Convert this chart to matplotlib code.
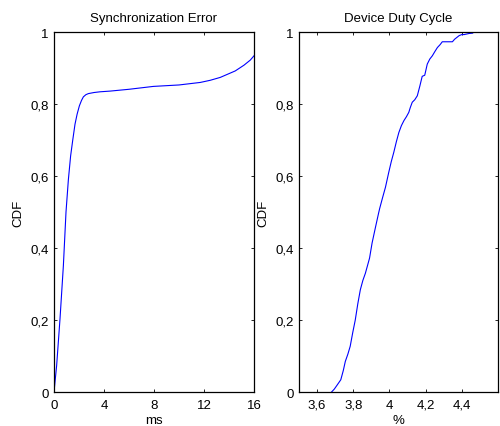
import matplotlib
matplotlib.use('Agg')
import matplotlib.pyplot as plt

plt.rcParams['font.family'] = ['Liberation Sans', 'DejaVu Sans']
plt.rcParams['font.size'] = 9.5

# synchronization error CDF (ms)
sync_ms = [0, 0.21, 0.48, 0.75, 0.96, 1.15, 1.33, 1.5, 1.68, 1.85, 2.03, 2.2, 2.35, 2.55,
           2.75, 3.2, 3.68, 4.5, 6.0, 7.95, 10.0, 11.7, 12.5, 13.3, 14.5, 15.2, 15.7, 16.0]
sync_cdf = [0, 0.073, 0.203, 0.351, 0.5, 0.59, 0.656, 0.7, 0.744, 0.772, 0.795, 0.81, 0.82,
            0.826, 0.829, 0.832, 0.834, 0.836, 0.841, 0.849, 0.853, 0.86, 0.866, 0.874,
            0.892, 0.908, 0.922, 0.934]

# device duty cycle CDF (%)
duty_pct = [3.68, 3.695, 3.709, 3.72, 3.731, 3.745, 3.756, 3.77, 3.783, 3.797, 3.811, 3.825,
            3.839, 3.853, 3.867, 3.878, 3.89, 3.904, 3.922, 3.94, 3.946, 3.962, 3.978, 3.996,
            4.01, 4.024, 4.038, 4.052, 4.066, 4.08, 4.094, 4.107, 4.115, 4.126, 4.14, 4.154,
            4.168, 4.181, 4.195, 4.209, 4.223, 4.237, 4.25, 4.265, 4.28, 4.292, 4.32, 4.348,
            4.36, 4.385, 4.40, 4.413, 4.44, 4.46]
duty_cdf = [0, 0.008, 0.018, 0.026, 0.034, 0.06, 0.085, 0.105, 0.127, 0.165, 0.2, 0.245,
            0.284, 0.31, 0.33, 0.35, 0.372, 0.414, 0.456, 0.497, 0.51, 0.54, 0.569, 0.61,
            0.64, 0.666, 0.695, 0.721, 0.74, 0.754, 0.765, 0.777, 0.79, 0.805, 0.812, 0.823,
            0.85, 0.877, 0.88, 0.911, 0.925, 0.934, 0.945, 0.957, 0.965, 0.973, 0.973, 0.973,
            0.98, 0.99, 0.993, 0.993, 0.996, 0.997]

y_ticks = [0, 0.2, 0.4, 0.6, 0.8, 1]
y_labels = ['0', '0,2', '0,4', '0,6', '0,8', '1']
sync_xticks = [0, 4, 8, 12, 16]
duty_xticks = [3.6, 3.8, 4.0, 4.2, 4.4]
duty_xlabels = ['3,6', '3,8', '4', '4,2', '4,4']

fig = plt.figure(figsize=(5, 4.27), dpi=100)
ax1 = fig.add_axes([0.108, 0.0796, 0.4, 0.843])
ax2 = fig.add_axes([0.598, 0.0796, 0.398, 0.843])

for ax in (ax1, ax2):
    ax.tick_params(direction='in', length=2.5, width=0.6, top=True, right=True,
                   labelsize=9.5, colors='black')
    ax.tick_params(axis='x', pad=5)
    ax.tick_params(axis='y', pad=4)
    for s in ax.spines.values():
        s.set_linewidth(0.9)
    ax.set_ylim(0, 1)
    ax.set_yticks(y_ticks)
    ax.set_yticklabels(y_labels)
    ax.set_ylabel('CDF', fontsize=9.5, labelpad=4)

ax1.plot(sync_ms, sync_cdf, color='blue', linewidth=0.8)
ax1.set_xlim(0, 16)
ax1.set_xticks(sync_xticks)
ax1.set_xlabel('ms', fontsize=9.5, labelpad=2)
ax1.set_title('Synchronization Error', fontsize=9.5, pad=8)

ax2.plot(duty_pct, duty_cdf, color='blue', linewidth=0.8)
ax2.set_xlim(3.5, 4.6)
ax2.set_xticks(duty_xticks)
ax2.set_xticklabels(duty_xlabels)
ax2.set_xlabel('%', fontsize=9.5, labelpad=2)
ax2.set_title('Device Duty Cycle', fontsize=9.5, pad=8)

plt.savefig('out.png', dpi=100)
